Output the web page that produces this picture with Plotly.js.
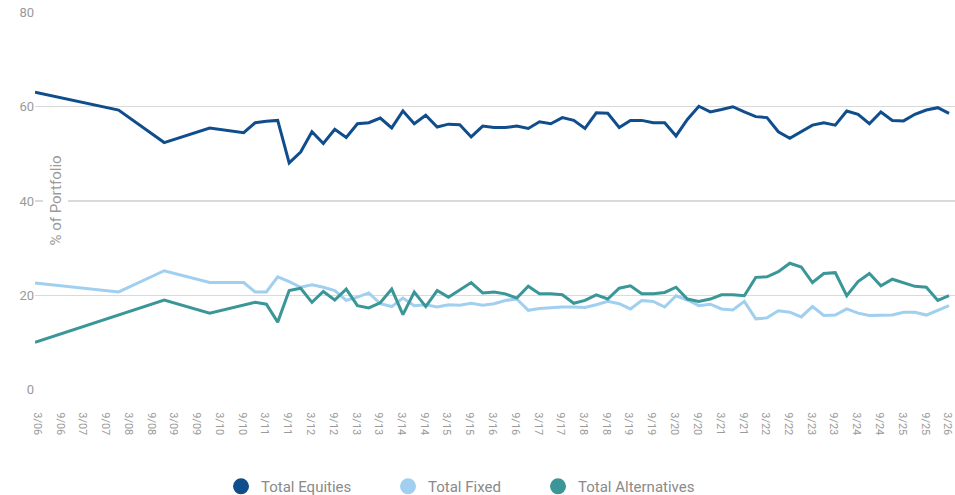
<!DOCTYPE html>
<html>
<head>
<meta charset="utf-8">
<script src="https://cdn.plot.ly/plotly-3.0.1.min.js"></script>
<style>
  html, body { margin: 0; padding: 0; background: #fff; }
  #chart { width: 955px; height: 495px; }
</style>
</head>
<body>
<div id="chart"></div>
<script>
// Observation dates (first point, then year-end / quarter-end as-of dates)
var dates = [
  "2006-02-28", "2007-12-31", "2008-12-31", "2009-12-31", "2010-09-30", "2010-12-31",
  "2011-03-31", "2011-06-30", "2011-09-30", "2011-12-31",
  "2012-03-31", "2012-06-30", "2012-09-30", "2012-12-31",
  "2013-03-31", "2013-06-30", "2013-09-30", "2013-12-31",
  "2014-03-31", "2014-06-30", "2014-09-30", "2014-12-31",
  "2015-03-31", "2015-06-30", "2015-09-30", "2015-12-31",
  "2016-03-31", "2016-06-30", "2016-09-30", "2016-12-31",
  "2017-03-31", "2017-06-30", "2017-09-30", "2017-12-31",
  "2018-03-31", "2018-06-30", "2018-09-30", "2018-12-31",
  "2019-03-31", "2019-06-30", "2019-09-30", "2019-12-31",
  "2020-03-31", "2020-06-30", "2020-09-30", "2020-12-31",
  "2021-03-31", "2021-06-30", "2021-09-30", "2021-12-31",
  "2022-03-31", "2022-06-30", "2022-09-30", "2022-12-31",
  "2023-03-31", "2023-06-30", "2023-09-30", "2023-12-31",
  "2024-03-31", "2024-06-30", "2024-09-30", "2024-12-31",
  "2025-03-31", "2025-06-30", "2025-09-30", "2025-12-31",
  "2026-03-31"
];

var totalEquities = [
  63.1, 59.3, 52.4, 55.5, 54.5, 56.6,
  56.9, 57.1, 48.1, 50.4,
  54.7, 52.2, 55.2, 53.5,
  56.4, 56.6, 57.6, 55.5,
  59.1, 56.4, 58.2, 55.7,
  56.3, 56.2, 53.6, 55.9,
  55.6, 55.6, 55.9, 55.4,
  56.8, 56.4, 57.7, 57.1,
  55.4, 58.7, 58.6, 55.6,
  57.1, 57.1, 56.6, 56.6,
  53.8, 57.3, 60.1, 58.9,
  59.4, 60.0, 58.9, 57.9,
  57.7, 54.7, 53.3, 54.7,
  56.1, 56.6, 56.1, 59.1,
  58.4, 56.4, 58.9, 57.1,
  57.0, 58.4, 59.3, 59.8,
  58.6
];

var totalFixed = [
  22.6, 20.7, 25.2, 22.7, 22.7, 20.7,
  20.7, 23.9, 22.9, 21.7,
  22.2, 21.7, 21.0, 18.9,
  19.6, 20.5, 18.2, 17.6,
  19.4, 17.8, 18.0, 17.5,
  18.0, 17.9, 18.3, 17.9,
  18.2, 18.9, 19.2, 16.8,
  17.2, 17.4, 17.5, 17.5,
  17.4, 18.0, 18.7, 18.2,
  17.1, 18.9, 18.7, 17.5,
  19.9, 19.0, 17.8, 18.1,
  17.1, 16.9, 18.7, 15.0,
  15.2, 16.7, 16.4, 15.4,
  17.6, 15.7, 15.8, 17.1,
  16.2, 15.7, 15.8, 15.8,
  16.4, 16.4, 15.8, 16.9,
  17.8
];

var totalAlternatives = [
  10.0, 15.9, 19.0, 16.2, 18.0, 18.5,
  18.1, 14.3, 21.0, 21.5,
  18.5, 20.8, 19.0, 21.3,
  17.8, 17.3, 18.4, 21.3,
  15.9, 20.7, 17.6, 21.0,
  19.6, 21.2, 22.7, 20.5,
  20.7, 20.3, 19.4, 21.9,
  20.3, 20.3, 20.1, 18.3,
  18.9, 20.1, 19.2, 21.5,
  22.0, 20.3, 20.3, 20.6,
  21.7, 19.2, 18.7, 19.2,
  20.1, 20.1, 19.9, 23.8,
  23.9, 25.0, 26.8, 26.0,
  22.7, 24.6, 24.8, 19.9,
  22.9, 24.6, 22.0, 23.4,
  22.7, 21.9, 21.7, 18.9,
  19.9
];

var seriesNames = ["Total Equities", "Total Fixed", "Total Alternatives"];
var seriesColors = ["#0f4d8c", "#a0cff0", "#3a9697"];
var seriesValues = [totalEquities, totalFixed, totalAlternatives];
var legendWidths = [122, 105, 125];

var traces = [];
// Lines
for (var i = 0; i < seriesNames.length; i++) {
  traces.push({
    type: "scatter", mode: "lines",
    x: dates, y: seriesValues[i],
    name: seriesNames[i],
    line: { color: seriesColors[i], width: 3 },
    showlegend: false,
    hoverinfo: "skip"
  });
}
// Legend entries (circle markers)
for (var j = 0; j < seriesNames.length; j++) {
  traces.push({
    type: "scatter", mode: "markers",
    x: [null], y: [null],
    name: seriesNames[j],
    marker: { color: seriesColors[j], size: 16, symbol: "circle" },
    legendwidth: legendWidths[j],
    showlegend: true,
    hoverinfo: "skip"
  });
}

var layout = {
  width: 955, height: 495,
  margin: { l: 35, r: 0, t: 12, b: 105 },
  paper_bgcolor: "#ffffff",
  plot_bgcolor: "#ffffff",
  font: { family: "Roboto, 'Open Sans', sans-serif", color: "#999999" },
  showlegend: true,
  legend: {
    orientation: "h",
    xref: "paper", x: 0.2022, xanchor: "left",
    yref: "container", y: 0.017, yanchor: "middle",
    font: { family: "Roboto, sans-serif", size: 15, color: "#8a8a8a" },
    itemsizing: "trace",
    bgcolor: "rgba(0,0,0,0)"
  },
  xaxis: {
    type: "date",
    range: ["2006-02-28", "2026-05-18"],
    tick0: "2006-03-20",
    dtick: "M6",
    tickformat: "%-m/%y",
    tickangle: 90,
    tickfont: { family: "Roboto, sans-serif", size: 11, color: "#9a9a9a" },
    ticks: "outside",
    ticklen: 19,
    tickcolor: "rgba(0,0,0,0)",
    showgrid: false,
    showline: false,
    zeroline: false,
    fixedrange: true
  },
  yaxis: {
    range: [-0.1, 80.1],
    tick0: 0,
    dtick: 20,
    tickfont: { family: "Roboto, sans-serif", size: 13, color: "#9a9a9a" },
    showgrid: true,
    gridcolor: "#dadada",
    gridwidth: 1.5,
    zeroline: false,
    showline: false,
    ticks: "",
    fixedrange: true
  },
  annotations: [{
    text: "% of Portfolio",
    xref: "paper", yref: "paper",
    x: 0.0223, y: 0.5,
    xanchor: "center", yanchor: "middle",
    textangle: -90,
    showarrow: false,
    bgcolor: "#ffffff",
    borderpad: 3,
    font: { family: "Roboto, sans-serif", size: 15, color: "#9a9a9a" }
  }]
};

Plotly.newPlot("chart", traces, layout, { displayModeBar: false, staticPlot: true });
</script>
</body>
</html>
